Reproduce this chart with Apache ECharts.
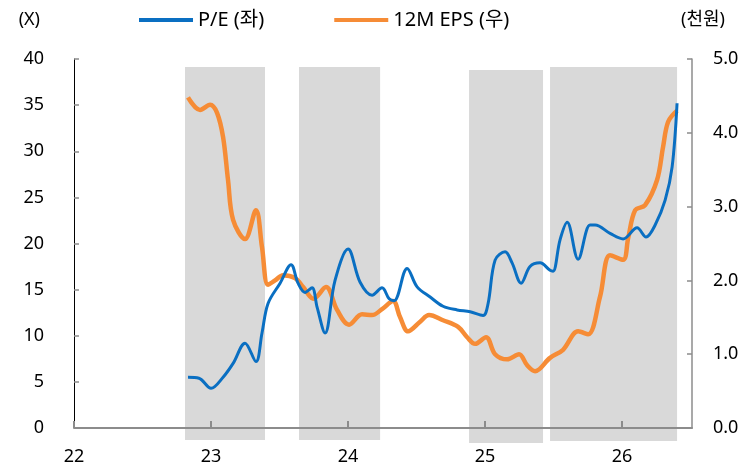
<!DOCTYPE html>
<html>
<head>
<meta charset="utf-8">
<script src="https://cdn.jsdelivr.net/npm/echarts@6/dist/echarts.min.js"></script>
<style>html,body{margin:0;padding:0;background:#fff;}#c{width:756px;height:472px;}</style>
</head>
<body>
<div id="c"></div>
<script>
// Time in decimal years
var peX = [2022.832,2022.912,2023.000,2023.088,2023.161,2023.248,2023.328,2023.372,2023.416,2023.504,2023.584,2023.635,2023.686,2023.737,2023.774,2023.832,2023.905,2024.000,2024.088,2024.175,2024.248,2024.300,2024.336,2024.431,2024.504,2024.599,2024.693,2024.796,2024.891,2024.985,2025.022,2025.073,2025.146,2025.197,2025.263,2025.328,2025.401,2025.474,2025.496,2025.547,2025.599,2025.679,2025.766,2025.803,2025.912,2026.007,2026.109,2026.175,2026.241,2026.314,2026.365,2026.401];
var peY = [5.5,5.4,4.3,5.5,7.0,9.2,7.2,10.3,13.5,15.7,17.7,15.7,14.7,15.2,13.1,10.3,16.0,19.4,15.8,14.4,15.2,14.0,13.8,17.3,15.3,14.2,13.2,12.8,12.6,12.2,13.5,18.2,19.1,17.9,15.7,17.5,17.9,17.1,17.0,20.4,22.3,18.3,22.0,22.0,21.1,20.5,21.7,20.7,22.0,24.7,28.3,35.2];
var epsX = [2022.832,2022.920,2022.993,2023.044,2023.088,2023.124,2023.161,2023.248,2023.328,2023.372,2023.416,2023.467,2023.526,2023.613,2023.672,2023.723,2023.745,2023.839,2023.920,2024.007,2024.102,2024.175,2024.248,2024.328,2024.380,2024.438,2024.526,2024.591,2024.693,2024.803,2024.869,2024.927,2025.007,2025.073,2025.161,2025.248,2025.307,2025.365,2025.474,2025.569,2025.679,2025.752,2025.839,2025.912,2026.007,2026.044,2026.095,2026.168,2026.255,2026.299,2026.336,2026.401];
var epsY = [4.48,4.31,4.38,4.27,3.94,3.36,2.82,2.56,2.95,2.45,1.94,2.00,2.07,2.03,1.91,1.78,1.75,1.91,1.60,1.40,1.54,1.53,1.61,1.72,1.50,1.31,1.44,1.53,1.46,1.37,1.23,1.14,1.23,1.00,0.93,1.00,0.85,0.77,0.95,1.06,1.31,1.27,1.78,2.34,2.28,2.57,2.95,3.02,3.36,3.81,4.15,4.30];
// Shaded periods: start, end, bottom, top (left-axis units)
var bandStart = [2022.810, 2023.642, 2024.883, 2025.474];
var bandEnd   = [2023.394, 2024.234, 2025.423, 2026.401];
var bandLow   = [-1.30, -1.30, -1.63, -1.41];
var bandHigh  = [39.13, 39.13, 38.80, 39.13];
var yearTicks = [2022, 2023, 2024, 2025, 2026];

function zip(a, b) { return a.map(function (v, i) { return [v, b[i]]; }); }
var bands = bandStart.map(function (s, i) { return [s, bandEnd[i], bandLow[i], bandHigh[i]]; });

var FONT = '"Noto Sans", "Noto Sans CJK KR", sans-serif';
var chart = echarts.init(document.getElementById('c'), null, {renderer: 'canvas'});
chart.setOption({
  animation: false,
  backgroundColor: '#ffffff',
  textStyle: {fontFamily: FONT, color: '#000'},
  legend: {
    left: 134, top: 5,
    itemWidth: 54, itemHeight: 4, itemGap: 70,
    icon: 'rect',
    textStyle: {fontFamily: FONT, fontSize: 20, color: '#000'},
    data: ['P/E (좌)', '12M EPS (우)']
  },
  grid: {left: 74, right: 64, top: 59, bottom: 44, containLabel: false},
  xAxis: {
    type: 'value', min: 2022, max: 2026.51,
    splitLine: {show: false},
    axisLine: {show: true, lineStyle: {color: '#8c8c8c', width: 2}},
    axisTick: {show: true, inside: true, length: 7, customValues: yearTicks, lineStyle: {color: '#8c8c8c', width: 2}},
    axisLabel: {customValues: yearTicks, margin: 20, fontSize: 18, color: '#000', fontFamily: FONT,
      formatter: function (v) { return String(Math.round(v) % 100); }}
  },
  yAxis: [{
    type: 'value', min: 0, max: 40, interval: 5,
    name: '(X)', nameLocation: 'end', nameGap: 30,
    nameTextStyle: {fontFamily: FONT, fontSize: 18, color: '#000', align: 'right', padding: [0, 34, 0, 0]},
    splitLine: {show: false},
    axisLine: {show: true, lineStyle: {color: '#000', width: 1}},
    axisTick: {show: true, inside: true, length: 5, lineStyle: {color: '#8c8c8c', width: 1.5}},
    axisLabel: {margin: 30, fontSize: 18, color: '#000', fontFamily: FONT}
  }, {
    type: 'value', min: 0, max: 5, interval: 1,
    name: '(천원)', nameLocation: 'end', nameGap: 30,
    nameTextStyle: {fontFamily: FONT, fontSize: 18, color: '#000', align: 'center', padding: [0, 0, 0, 22]},
    splitLine: {show: false},
    axisLine: {show: true, lineStyle: {color: '#8c8c8c', width: 1.5}},
    axisTick: {show: true, inside: true, length: 5, lineStyle: {color: '#8c8c8c', width: 1.5}},
    axisLabel: {margin: 21, fontSize: 18, color: '#000', fontFamily: FONT,
      formatter: function (v) { return v.toFixed(1); }}
  }],
  series: [{
    type: 'custom',
    name: 'bands',
    silent: true,
    clip: false,
    z: -1,
    xAxisIndex: 0, yAxisIndex: 0,
    data: bands,
    encode: {x: [0, 1], y: [2, 3]},
    renderItem: function (params, api) {
      var p0 = api.coord([api.value(0), api.value(3)]);
      var p1 = api.coord([api.value(1), api.value(2)]);
      return {type: 'rect', shape: {x: p0[0], y: p0[1], width: p1[0] - p0[0], height: p1[1] - p0[1]},
        style: {fill: '#d9d9d9'}};
    }
  }, {
    type: 'line', name: 'P/E (좌)', yAxisIndex: 0,
    data: zip(peX, peY),
    smooth: 0.35, showSymbol: false, symbol: 'none',
    itemStyle: {color: '#0a6fc2'},
    lineStyle: {color: '#0a6fc2', width: 3},
    z: 3
  }, {
    type: 'line', name: '12M EPS (우)', yAxisIndex: 1,
    data: zip(epsX, epsY),
    smooth: 0.35, showSymbol: false, symbol: 'none',
    itemStyle: {color: '#f68c36'},
    lineStyle: {color: '#f68c36', width: 4.5},
    z: 2
  }]
});
</script>
</body>
</html>
